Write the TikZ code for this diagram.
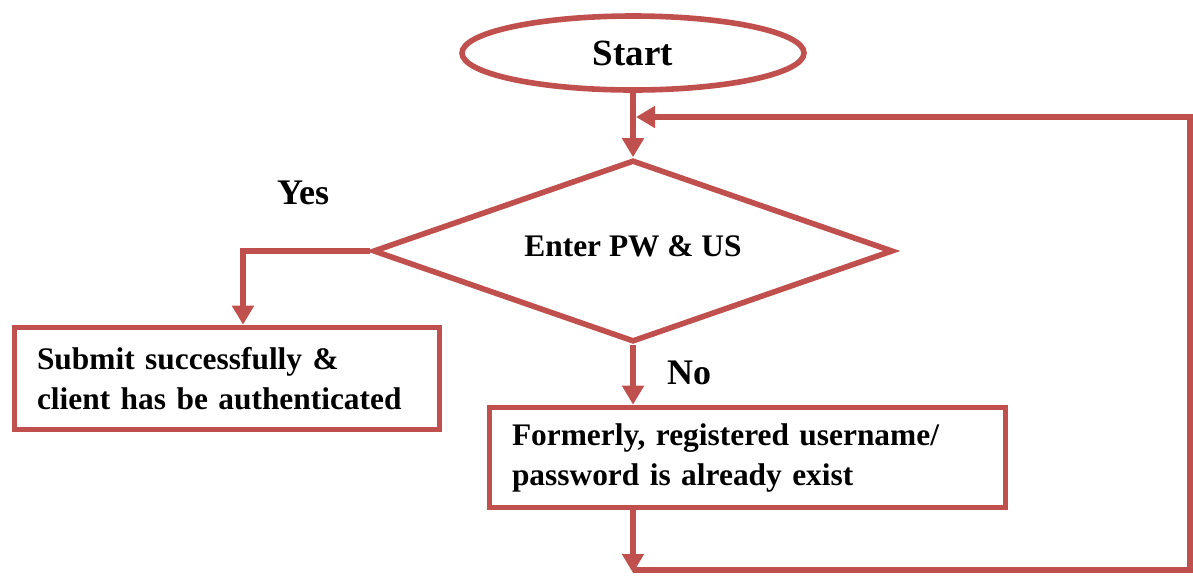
\documentclass[tikz,border=0pt]{standalone}
\usepackage{fontspec}
\setmainfont{Liberation Serif}
\usepackage{tikz}
\usetikzlibrary{shapes.geometric,arrows.meta}
\definecolor{flowred}{HTML}{C0504D}

\begin{document}
\begin{tikzpicture}[x=0.5pt,y=-0.5pt,line width=2.8pt,
  every node/.style={font=\bfseries\fontsize{15.7}{20}\selectfont,text=black},
  box/.style={rectangle,draw=flowred,align=left,inner xsep=11.25pt,inner ysep=0pt},
  arr/.style={draw=flowred,-{Triangle[length=9.5pt,width=10.5pt]}}]
  \useasboundingbox (0,0) rectangle (1193,575);

  \node[ellipse,draw=flowred,minimum width=171pt,minimum height=37pt,font=\bfseries\fontsize{18.5}{22}\selectfont] (1) at (633,53) {Start}; % Start
  \node[diamond,draw=flowred,aspect=2.857,inner sep=0pt,minimum width=260pt,minimum height=91pt] (2) at (633,251) {\raisebox{5pt}{Enter PW \& US}}; % check
  \node[box,text width=190pt,minimum height=51pt] (3) at (227,378.5) {Submit successfully \&\\client has be authenticated}; % yes branch
  \node[box,text width=235.5pt,minimum height=50pt] (4) at (747.5,457.5) {Formerly, registered username/\\password is already exist}; % no branch

  \node[font=\bfseries\fontsize{18}{22}\selectfont] (5) at (303,193) {Yes};
  \node[font=\bfseries\fontsize{18}{22}\selectfont] (6) at (689,373) {No};

  % loop back to the check
  \coordinate (7) at (633,573);
  \coordinate (8) at (1190,570);
  \coordinate (9) at (636,117);

  \draw[arr] (1.south) -- (2.north);
  \draw[arr] (2.west) -| ([xshift=8pt]3.north);
  \draw[arr] (2.south) -- (2.south |- 4.north);
  \draw[arr] (2.south |- 4.south) -- (7);
  \draw[arr] (7 |- 8) -- (8) |- (9);

\end{tikzpicture}
\end{document}
